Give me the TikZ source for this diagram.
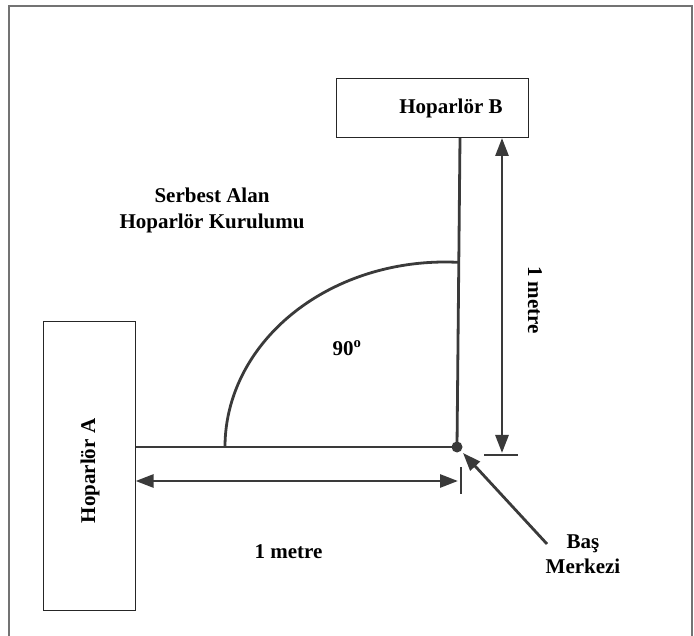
\documentclass[tikz,border=0pt]{standalone}
\usepackage{fontspec}
\setmainfont{Liberation Serif}
\usetikzlibrary{arrows.meta}
\definecolor{ink}{HTML}{3A3A3A}
\begin{document}
\begin{tikzpicture}[x=1pt,y=-1pt,
  >={Triangle[length=18pt,width=13pt]},
  box/.style={draw=black!85, line width=1pt, inner sep=0pt},
  lbl/.style={font=\fontsize{21}{25.5}\selectfont\bfseries, inner sep=0pt, align=center},
  ln/.style={draw=ink, line width=2.8pt},
]
\useasboundingbox (0,0) rectangle (694,636);
\draw[black!55, line width=1.5pt] (9,640) -- (9,6) -- (692,6) -- (692,640);
% speakers
\node[box, minimum width=192pt, minimum height=59pt] (boxB) at (432,108.5) {};
\node[lbl] (labB) at (451,108) {Hoparlör B};
\node[box, minimum width=92pt, minimum height=289pt] (boxA) at (89.5,466) {};
\node[lbl, rotate=90] (labA) at (90,471) {Hoparlör A};
% head centre
\node[circle, fill=ink, inner sep=0pt, minimum size=11pt] (dot) at (457,447) {};
\coordinate (bTop) at (460,138);
\draw[ln] (bTop) -- (dot.center);
\draw[ln] (boxA.east |- dot) -- (dot.center);
% angle arc
\coordinate (arcS) at (225,447);
\draw[ln] (arcS) arc[start angle=180, end angle=86.6, x radius=220pt, y radius=185pt];
\node[lbl] (ang) at (347,348) {90\textsuperscript{o}};
% horizontal dimension
\coordinate (hL) at (135.6,481);
\coordinate (hR) at (458,481);
\coordinate (hT1) at (461,467);
\coordinate (hT2) at (461,494);
\draw[ln,<->] (hL) -- (hR);
\draw[ln] (hT1) -- (hT2);
\node[lbl] (lenH) at (288.5,552) {1 metre};
% vertical dimension
\coordinate (vT) at (502,138);
\coordinate (vB) at (502,453);
\coordinate (vK1) at (484,455);
\coordinate (vK2) at (518,455);
\draw[ln,<->] (vT) -- (vB);
\draw[ln] (vK1) -- (vK2);
\node[lbl, rotate=-90] (lenV) at (535,300) {1 metre};
% head centre label
\node[lbl] (head) at (583,554) {Baş\\Merkezi};
\coordinate (hTail) at (547,544);
\coordinate (hTip) at (463,453);
\draw[ln,->] (hTail) -- (hTip);
% title
\node[lbl, font=\fontsize{21}{26}\selectfont\bfseries] (title) at (212,210) {Serbest Alan\\Hoparlör Kurulumu};
\end{tikzpicture}
\end{document}
